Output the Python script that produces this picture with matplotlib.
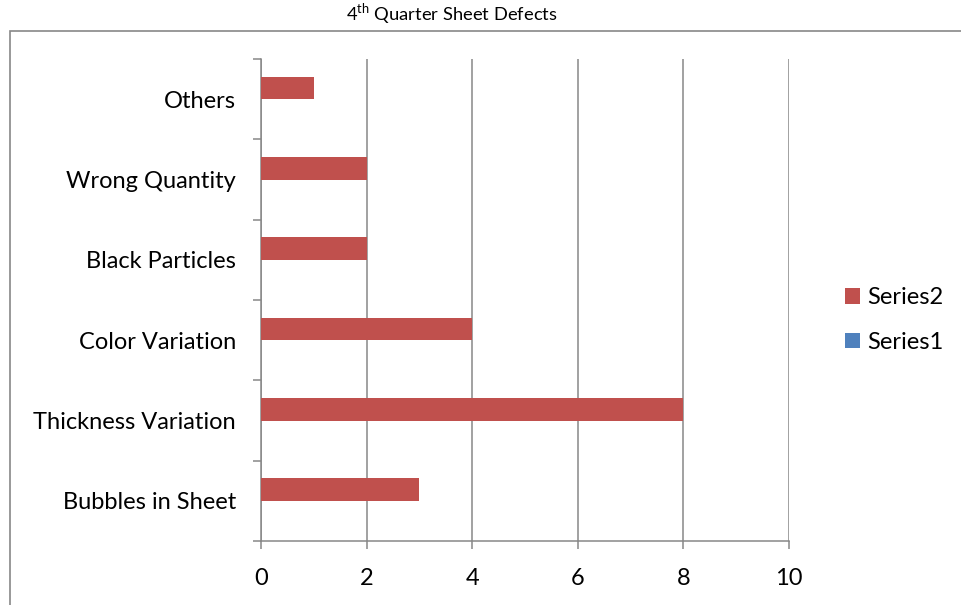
import matplotlib
matplotlib.use("Agg")
import matplotlib.pyplot as plt
from matplotlib.patches import Rectangle
import numpy as np

plt.rcParams['font.family'] = ['Lato', 'DejaVu Sans']
plt.rcParams['mathtext.fontset'] = 'custom'
plt.rcParams['mathtext.rm'] = 'Lato'

categories = ["Bubbles in Sheet", "Thickness Variation", "Color Variation",
              "Black Particles", "Wrong Quantity", "Others"]
series2 = [3, 8, 4, 2, 2, 1]
series1 = [0, 0, 0, 0, 0, 0]
x_ticks = [0, 2, 4, 6, 8, 10]

RED = "#C0504D"
BLUE = "#4F81BD"
GRAY = "#878787"
FS = 17

W, H = 962, 605
fig = plt.figure(figsize=(W / 100, H / 100), dpi=100)

# outer chart frame (runs off the right and bottom edges)
fig.patches.append(Rectangle((10 / W, -0.1), 1.2, 1 - 31 / H + 0.1,
                             transform=fig.transFigure, fill=False,
                             edgecolor=GRAY, linewidth=1.2))

fig.text(452 / W, 1 - 14 / H, r"4$^{\mathrm{th}}$ Quarter Sheet Defects",
         ha="center", va="center", fontsize=13.2)

ax = fig.add_axes([261 / W, 1 - 541 / H, 528 / W, 482 / H])

y = np.arange(len(categories))
h = 0.28
ax.barh(y + h / 2, series2, height=h, color=RED, label="Series2", zorder=3)
ax.barh(y - h / 2, series1, height=h, color=BLUE, label="Series1", zorder=3)

ax.set_xlim(0, 10)
ax.set_ylim(-0.5, len(categories) - 0.5)

ax.set_xticks(x_ticks)
ax.set_xticklabels([str(v) for v in x_ticks], fontsize=FS)
ax.tick_params(axis="x", length=5.8, width=1.1, color=GRAY, pad=13.5)
ax.grid(axis="x", color=GRAY, linewidth=1.1, zorder=1)

# category boundaries carry the ticks, names sit between them
ax.set_yticks(np.arange(-0.5, len(categories), 1.0))
ax.set_yticklabels([])
ax.tick_params(axis="y", which="major", length=5.8, width=1.1, color=GRAY)
ax.set_yticks(y, minor=True)
ax.set_yticklabels(categories, minor=True, fontsize=FS)
ax.tick_params(axis="y", which="minor", length=0, pad=18)

for side in ("top", "right"):
    ax.spines[side].set_visible(False)
for side in ("left", "bottom"):
    ax.spines[side].set_color(GRAY)
    ax.spines[side].set_linewidth(1.1)

handles, labels = ax.get_legend_handles_labels()
leg = fig.legend(handles, labels, loc="center left",
                 bbox_to_anchor=(845 / W, 1 - 320 / H), frameon=False,
                 fontsize=FS, handlelength=0.64, handleheight=0.64,
                 handletextpad=0.3, labelspacing=1.0,
                 borderpad=0, borderaxespad=0)

fig.savefig("out.png", dpi=100)
